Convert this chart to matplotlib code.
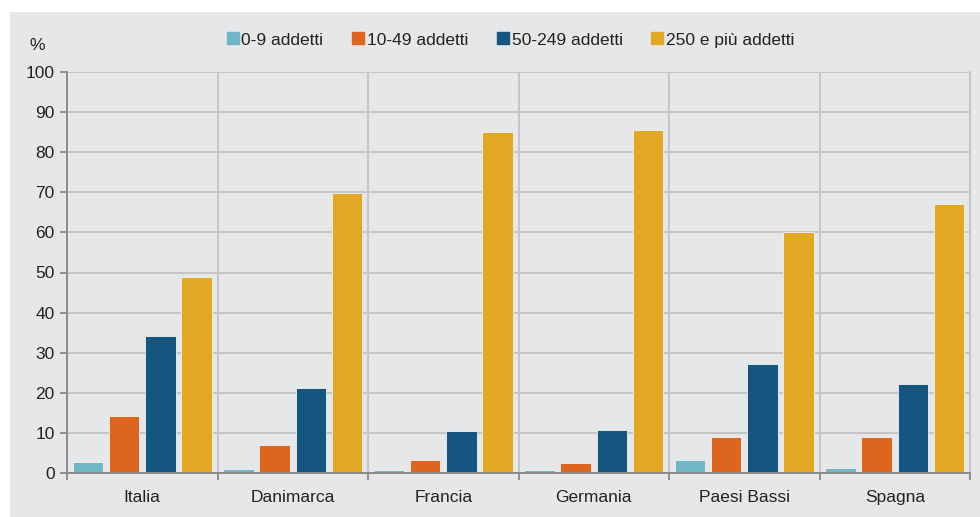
import matplotlib
matplotlib.use("Agg")
import matplotlib.pyplot as plt
from matplotlib.patches import Rectangle
from matplotlib.lines import Line2D
import numpy as np

plt.rcParams['font.family'] = ['Liberation Sans', 'DejaVu Sans']

categories = ["Italia", "Danimarca", "Francia", "Germania", "Paesi Bassi", "Spagna"]
series_names = ["0-9 addetti", "10-49 addetti", "50-249 addetti", "250 e più addetti"]
v_0_9 = [2.7, 1.0, 0.7, 0.8, 3.3, 1.2]
v_10_49 = [14.3, 7.0, 3.2, 2.6, 8.9, 9.0]
v_50_249 = [34.1, 21.1, 10.5, 10.8, 27.2, 22.3]
v_250 = [48.8, 69.9, 85.1, 85.5, 60.2, 67.0]
series_values = [v_0_9, v_10_49, v_50_249, v_250]
colors = ["#6fb7c6", "#de651e", "#14567f", "#e2a824"]
yticks = list(range(0, 101, 10))

W, H = 980, 517
fig = plt.figure(figsize=(W / 100, H / 100), dpi=100, facecolor="white")
bg = "#e6e7e9"
fig.patches.append(Rectangle((10 / W, 0), 1 - 10 / W, (H - 12) / H,
                             transform=fig.transFigure, facecolor=bg,
                             edgecolor="none", zorder=-10))

ax = fig.add_axes([67 / W, (H - 473) / H, (970 - 67) / W, (473 - 72) / H])
ax.set_facecolor(bg)

x = np.arange(len(categories))
offsets = [-0.359, -0.12, 0.12, 0.359]
width = 0.203
for vals, off, c in zip(series_values, offsets, colors):
    ax.bar(x + off, vals, width=width, color=c, edgecolor="#f2f2f2",
           linewidth=0.6, zorder=3)

ax.set_xlim(-0.5, len(categories) - 0.5)
ax.set_ylim(0, 100)
ax.set_yticks(yticks)
ax.set_yticklabels([str(t) for t in yticks], fontsize=12.5, color="#222222")
ax.set_xticks(x)
ax.set_xticklabels(categories, fontsize=12.5, color="#222222")
ax.set_xticks(np.arange(-0.5, len(categories)), minor=True)

ax.tick_params(axis="x", which="major", length=0, pad=12)
ax.tick_params(axis="x", which="minor", length=5, color="#7f7f7f", width=1.2)
ax.tick_params(axis="y", length=5, color="#7f7f7f", width=1.2, pad=4)

ax.grid(axis="y", which="major", color="#c4c5c7", linewidth=1.4, zorder=1)
ax.grid(axis="x", which="minor", color="#c4c5c7", linewidth=1.4, zorder=1)
ax.grid(axis="x", which="major", visible=False)
ax.set_axisbelow(True)

ax.spines["top"].set_visible(False)
ax.spines["right"].set_color("#c4c5c7")
ax.spines["right"].set_linewidth(1.4)
ax.spines["left"].set_color("#8a8a8a")
ax.spines["left"].set_linewidth(1.4)
ax.spines["bottom"].set_color("#8a8a8a")
ax.spines["bottom"].set_linewidth(1.4)
ax.spines["left"].set_zorder(4)
ax.spines["bottom"].set_zorder(4)

fig.text(37 / W, (H - 45) / H, "%", fontsize=12.5, color="#222222",
         ha="center", va="center")

handles = [Line2D([], [], marker="s", linestyle="none", markersize=8,
                  markerfacecolor=c, markeredgecolor=c) for c in colors]
fig.legend(handles, series_names, loc="center", bbox_to_anchor=(510 / W, (H - 40) / H),
           ncol=4, frameon=False, fontsize=12.5, handletextpad=0.1,
           columnspacing=1.6, handlelength=0.8, labelcolor="#222222")

fig.savefig("out.png", dpi=100, facecolor="white")
